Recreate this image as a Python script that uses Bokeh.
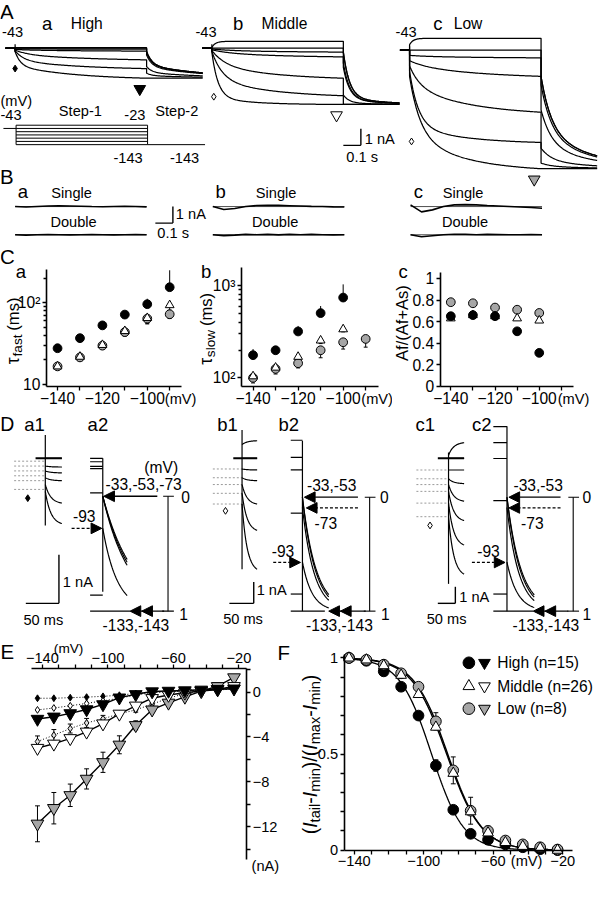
import numpy as np
from bokeh.plotting import figure
from bokeh.models import Range1d, FixedTicker, Arrow, NormalHead
from bokeh.layouts import column, row
from bokeh.embed import file_html
from bokeh.resources import INLINE
from bokeh.core.properties import value

S = 599.0 / 615.0
FONT = "Liberation Sans"
GRAY = "#a6a6a6"

# ============================== DATA ==============================
# ---- A: step-1 (0.75 s) from -43 mV holding, then step-2 to -143 mV
A_STEP1_MV = [-143, -123, -103, -83, -63, -43, -23]
A_HOLD_MV = -43
A_STEP2_MV = -143
A_EREV_MV = -30
A_STEP1_S = 0.75
A_STEP2_S = 0.32
A_END_HIGH = [-1.82, -1.24, -0.71, -0.18, -0.06, 0.0, 0.03]      # nA at end of step-1
A_END_MID = [-3.41, -2.88, -1.82, -0.53, -0.24, 0.0, 0.41]
A_END_LOW = [-7.18, -5.59, -3.76, -1.59, -0.47, 0.0, 0.71]
A_TF_HIGH = [0.03, 0.05, 0.08, 0.1, 0.1, 0.1, 0.02]              # fast tau (s)
A_TF_MID = [0.035, 0.06, 0.08, 0.1, 0.1, 0.1, 0.02]
A_TF_LOW = [0.06, 0.05, 0.06, 0.1, 0.1, 0.1, 0.02]
A_TS_HIGH = [0.35, 0.4, 0.5, 0.5, 0.5, 0.5, 0.1]                 # slow tau (s)
A_TS_MID = [0.2, 0.35, 0.4, 0.5, 0.5, 0.5, 0.1]
A_TS_LOW = [0.3, 0.3, 0.35, 0.5, 0.5, 0.5, 0.1]
A_AF_HIGH = [0.5, 0.5, 0.4, 0.3, 0.3, 0.5, 1.0]                  # fast fraction
A_AF_MID = [0.85, 0.6, 0.5, 0.4, 0.4, 0.5, 1.0]
A_AF_LOW = [0.6, 0.75, 0.4, 0.3, 0.3, 0.5, 1.0]
A_LEAK_NS = [2.0, 2.4, 16.0]                                     # High, Middle, Low

# ---- B: fit residuals (nA), 13 samples across step-1
B_SINGLE_HIGH = [0.0, -0.03, 0.0, 0.03, 0.04, 0.03, 0.02, 0.0, -0.01, 0.0, 0.01, 0.0, -0.02]
B_DOUBLE_HIGH = [0.0, -0.02, 0.0, 0.01, 0.0, -0.01, 0.0, 0.01, 0.0, -0.01, 0.0, 0.01, 0.0]
B_SINGLE_MID = [0.0, -0.18, -0.12, 0.0, 0.06, 0.08, 0.07, 0.05, 0.03, 0.01, 0.0, -0.02, -0.03]
B_DOUBLE_MID = [0.0, -0.05, -0.02, 0.02, 0.0, 0.02, -0.01, 0.02, 0.0, 0.02, 0.0, -0.01, 0.0]
B_SINGLE_LOW = [0.1, -0.32, -0.2, 0.0, 0.1, 0.12, 0.1, 0.06, 0.03, 0.0, -0.03, -0.06, -0.1]
B_DOUBLE_LOW = [0.0, -0.12, -0.06, 0.0, 0.03, 0.02, 0.0, 0.02, 0.01, 0.0, 0.0, 0.01, 0.0]

# ---- C: kinetics vs step-1 potential
C_MV = [-140, -130, -120, -110, -100, -90]
CA_HIGH = [27.7, 36.8, 52.8, 71.6, 96.0, 155.0]
CA_HIGH_UP = [31, 40, 57, 78, 112, 250]
CA_MID = [16.6, 21.8, 30.4, 45.0, 65.0, 93.5]
CA_MID_LO = [15.5, 20.0, 27.5, 41.0, 55.0, 81.0]
CA_LOW = [16.6, 21.4, 29.8, 43.7, 63.9, 72.3]
CA_LOW_LO = [15.5, 19.5, 27.0, 39.0, 56.0, 64.0]
CB_HIGH = [176, 199, 318, 503, 741]
CB_HIGH_UP = [205, 218, 365, 600, 1030]
CB_MID = [104, 129, 169, 254, 336]
CB_MID_LO = [95, 116, 150, 235, 315]
CB_LOW = [100, 125, 144, 199, 243, 264]
CB_LOW_LO = [88, 110, 128, 165, 205, 215]
CC_HIGH = [0.65, 0.66, 0.65, 0.51, 0.31]
CC_MID = [0.63, 0.66, 0.65, 0.63, 0.61]
CC_LOW = [0.78, 0.77, 0.73, 0.71, 0.68]

# ---- D: tail currents (normalised 0..1) after prepulses
D_PREPULSE_MV = [-33, -53, -73, -93, -133, -143]
D2_START_HIGH = [0.0, 0.0, 0.0, 0.28, 1.0, 1.0]
D2_START_MID = [0.0, 0.0, 0.09, 0.57, 1.0, 1.0]
D2_START_LOW = [0.0, 0.0, 0.09, 0.57, 1.0, 1.0]
D2_TAU_HIGH_MS = [43, 46, 40, 22, 1, 1]
D2_TAU_MID_MS = [26, 28, 24, 20, 1, 1]
D2_TAU_LOW_MS = [37, 40, 34, 30, 1, 1]
D2_PRE_HIGH = [-0.33, -0.30, -0.26, -0.24, -0.03, 0.86]
D2_PRE_MID = [-0.50, -0.35, -0.24, 0.14, 0.85]
D2_PRE_LOW = [-0.62, -0.48, -0.34, 0.03, 0.85]
D1_DOT_HIGH = [-0.06, -0.16, -0.26, -0.36, -0.46, -0.64]
D1_START_HIGH = [0.0, -0.16, -0.26, -0.40, -0.54, -0.68]
D1_END_HIGH = [0.0, -0.18, -0.30, -0.46, -0.92, -1.34]
D1_DOT_MID = [-0.55, -1.0, -1.35, -1.8, -2.35]
D1_START_MID = [0.7, 0.0, -0.55, -1.0, -1.35, -1.8, -2.35]
D1_END_MID = [0.9, 0.0, -0.6, -1.15, -2.35, -3.7, -5.7]
D1_DOT_LOW = [-0.71, -1.24, -1.59, -2.0, -2.71, -3.53]
D1_START_LOW = [0.18, 0.0, -0.71, -1.24, -1.59, -2.0, -2.71, -3.53]
D1_END_LOW = [0.94, 0.0, -0.71, -1.53, -2.59, -3.76, -5.24, -7.0]

# ---- E: current-voltage relations (nA)
E_MV = [-143, -133, -123, -113, -103, -93, -83, -73, -63, -53, -43, -33, -23]
E_SS_HIGH = [-0.55, -0.55, -0.5, -0.45, -0.38, -0.28, -0.12, 0.0, 0.05, 0.1, 0.15, 0.2, 0.25]
E_TAIL_HIGH = [-2.4, -2.2, -1.9, -1.55, -1.1, -0.5, -0.2, 0.05, 0.1, 0.14, 0.2, 0.25, 0.3]
E_SS_MID = [-1.59, -1.42, -1.22, -1.01, -0.78, -0.55, -0.26, -0.06, 0.03, 0.09, 0.14, 0.23, 0.29]
E_TAIL_MID = [-4.99, -4.61, -4.12, -3.54, -2.81, -1.94, -1.22, -0.55, -0.26, -0.06, 0.09, 0.23, 0.52]
E_SS_LOW = [-4.41, -3.84, -3.25, -2.75, -2.38, -1.94, -1.59, -1.07, -0.55, -0.14, 0.09, 0.23, 0.38]
E_SS_LOW_ERR = [0.5, 0.5, 0.4, 0.4, 0.3, 0.2, 0.2, 0.1, 0.1, 0.0, 0.0, 0.0, 0.0]
E_TAIL_LOW = [-11.74, -10.35, -9.2, -7.74, -6.26, -4.7, -2.96, -1.57, -0.96, -0.43, 0.09, 0.52, 1.3]
E_TAIL_LOW_ERR = [1.6, 1.4, 1.0, 0.9, 0.9, 0.8, 0.4, 0.2, 0.1, 0.1, 0.1, 0.1, 0.1]

# ---- F: normalised activation curves
F_MV = [-143, -133, -123, -113, -103, -93, -83, -73, -63, -53, -43, -33, -23]
F_HIGH = [1.0, 0.985, 0.93, 0.85, 0.70, 0.44, 0.21, 0.085, 0.054, 0.03, 0.015, 0.005, 0.0]
F_HIGH_ERR = [0, 0, 0, 0, 0, 0.03, 0, 0, 0, 0, 0, 0, 0]
F_MID = [1.0, 0.99, 0.96, 0.91, 0.81, 0.64, 0.40, 0.20, 0.09, 0.04, 0.02, 0.01, 0.0]
F_LOW = [1.0, 0.99, 0.965, 0.92, 0.85, 0.67, 0.415, 0.205, 0.10, 0.05, 0.03, 0.015, 0.003]
F_LOW_ERR = [0, 0, 0, 0, 0, 0.045, 0.07, 0.07, 0.025, 0, 0, 0, 0]
F_FIT_VHALF = [-95.5, -86.8, -86.2]      # High, Middle, Low Boltzmann fits
F_FIT_K = [9.2, 10.0, 9.8]
F_LEGEND = ["High (n=15)", "Middle (n=26)", "Low (n=8)"]

# ============================ HELPERS ============================
CW = {'τ': 0.44, 'f': 0.278, 'a': 0.556, 's': 0.5, 't': 0.278, ' ': 0.278, '(': 0.333,
      ')': 0.333, 'm': 0.833, 'l': 0.222, 'o': 0.556, 'w': 0.722, 'i': 0.222, 'n': 0.556,
      'x': 0.5, 'A': 0.667, '/': 0.278, '+': 0.584, 'I': 0.278, '-': 0.333}


def tw(s, size):
    return sum(CW.get(c, 0.556) for c in s) * size


def fs(px):
    return f"{px * S:.2f}px"


class Map:
    """page-pixel (reference layout) <-> data coordinates of one figure"""
    def __init__(self, rx0, x0, kx, ry0, y0, ky, ylog=False):
        self.rx0, self.x0, self.kx = rx0, x0, kx
        self.ry0, self.y0, self.ky = ry0, y0, ky
        self.ylog = ylog

    def X(self, rx):
        return self.x0 + (rx - self.rx0) / self.kx

    def Y(self, ry):
        v = self.y0 + (self.ry0 - ry) / self.ky
        return 10 ** v if self.ylog else v


PIX = Map(0, 0, 1, 0, 0, -1)


def make_fig(box, m):
    bx0, by0, bx1, by1 = box
    p = figure(width=round((bx1 - bx0) * S), height=round((by1 - by0) * S),
               x_range=Range1d(m.X(bx0), m.X(bx1)), y_range=Range1d(m.Y(by1), m.Y(by0)),
               y_axis_type="log" if m.ylog else "linear",
               x_axis_location=None, y_axis_location=None,
               output_backend="svg", toolbar_location=None,
               min_border=0, outline_line_color=None)
    p.grid.visible = False
    return p


def axis_fig(box, m, frame, x_side="below", y_side="left", lsize=16):
    bx0, by0, bx1, by1 = box
    L, T, R, B = frame
    p = figure(width=round((bx1 - bx0) * S), height=round((by1 - by0) * S),
               x_range=Range1d(m.X(bx0), m.X(bx1)), y_range=Range1d(m.Y(by1), m.Y(by0)),
               y_axis_type="log" if m.ylog else "linear",
               x_axis_location=x_side, y_axis_location=y_side,
               output_backend="svg", toolbar_location=None,
               min_border=0, outline_line_color=None)
    p.grid.visible = False
    p.xaxis.fixed_location = m.Y(B) if x_side == "below" else m.Y(T)
    p.xaxis.bounds = (m.X(L), m.X(R))
    p.yaxis.fixed_location = m.X(L) if y_side == "left" else m.X(R)
    p.yaxis.bounds = (m.Y(B), m.Y(T))
    for ax in p.axis:
        ax.axis_line_width = 1.6
        ax.axis_line_color = "black"
        ax.major_tick_line_width = 1.3
        ax.minor_tick_line_width = 1.3
        ax.major_tick_out = 4
        ax.major_tick_in = 0
        ax.minor_tick_out = 4
        ax.minor_tick_in = 0
        ax.major_label_text_font = FONT
        ax.major_label_text_font_size = fs(lsize)
        ax.major_label_text_color = "black"
        ax.major_label_standoff = 2
    return p


def txt(p, m, rx, ry, s, size=16, align="center", angle=0.0, style="normal"):
    p.text(x=[m.X(rx)], y=[m.Y(ry)], text=[s], text_font=value(FONT),
           text_font_size=value(fs(size)), text_align=align, text_baseline="middle",
           text_font_style=style, text_color="black", angle=angle)


def vcomp(p, m, rx, ryc, parts):
    total = sum(tw(t, sz) + gap for t, sz, dx, st, gap in parts)
    y = ryc + total / 2
    for t, sz, dx, st, gap in parts:
        y -= gap
        txt(p, m, rx + dx, y, t, size=sz, align="left", angle=np.pi / 2, style=st)
        y -= tw(t, sz)


def errbars(p, x, lo, hi, cap=5):
    p.segment(x0=x, y0=lo, x1=x, y1=hi, line_color="black", line_width=1)
    if cap > 0:
        p.scatter(x=list(x) + list(x), y=list(lo) + list(hi), marker="dash", size=cap * S,
                  line_color="black", line_width=1)


# ======================== ROW 1 : A and B ========================
PX_NA = 17.0
PX_S = 180.0
p1 = make_fig((0, 0, 615, 250), PIX)


def draw_A(p, x0, yh, end, tf, ts, af, gns, tri_fill):
    V = np.array(A_STEP1_MV, float)
    end = np.array(end, float)
    g = gns / 1000.0
    J = g * (V - A_HOLD_MV)
    act = end - J
    t1 = np.linspace(0, A_STEP1_S, 160)
    t2 = np.linspace(0, A_STEP2_S, 80)
    J2 = g * (A_STEP2_MV - A_HOLD_MV)
    act143 = end[0] - J2
    drive = (A_STEP2_MV - A_EREV_MV) / (V - A_EREV_MV)
    frac = np.where(act < 0, np.clip(act / act143 * drive, 0, 1), 0.0)
    frac[0] = 1.0
    shape2 = af[0] * np.exp(-t2 / tf[0]) + (1 - af[0]) * np.exp(-t2 / ts[0])
    xs, ys = [], []
    for i in range(len(V)):
        sh = 1 - af[i] * np.exp(-t1 / tf[i]) - (1 - af[i]) * np.exp(-t1 / ts[i])
        I1 = J[i] + act[i] * sh / sh[-1]
        I2 = J2 + act143 * (1 - (1 - frac[i]) * shape2)
        I = np.concatenate([[0.0, 0.0], I1, I2])
        t = np.concatenate([[-0.055, 0.0], t1, A_STEP1_S + t2])
        xs.append(list(x0 + t * PX_S))
        ys.append(list(yh - I * PX_NA))
    p.multi_line(xs, ys, line_color="black", line_width=1.25)
    p.segment(x0=[x0], y0=[yh - 4], x1=[x0], y1=[yh + 4], line_color="black", line_width=1.2)
    xe = x0 + A_STEP1_S * PX_S
    ye = yh - end[0] * PX_NA
    p.scatter(x=[xe - 7], y=[ye + 11], marker="inverted_triangle", size=12 * S,
              fill_color=tri_fill, line_color="black", line_width=1)


draw_A(p1, 15, 49, A_END_HIGH, A_TF_HIGH, A_TS_HIGH, A_AF_HIGH, A_LEAK_NS[0], "black")
draw_A(p1, 217, 49, A_END_MID, A_TF_MID, A_TS_MID, A_AF_MID, A_LEAK_NS[1], "white")
draw_A(p1, 420, 51, A_END_LOW, A_TF_LOW, A_TS_LOW, A_AF_LOW, A_LEAK_NS[2], GRAY)
p1.scatter(x=[15], y=[70], marker="diamond", size=7 * S, fill_color="black", line_color="black")
p1.scatter(x=[219], y=[99], marker="diamond", size=7 * S, fill_color="white", line_color="black")
p1.scatter(x=[422], y=[145], marker="diamond", size=7 * S, fill_color="white", line_color="black")

txt(p1, PIX, 6.5, 11, "A", size=21)
for xm, xl, xn, letter, name in [(12.5, 48, 88.5, "a", "High"), (211, 244, 291.5, "b", "Middle"),
                                 (416.5, 449, 480, "c", "Low")]:
    txt(p1, PIX, xm, 32, "-43", size=15)
    txt(p1, PIX, xl, 24, letter, size=19)
    txt(p1, PIX, xn, 24, name, size=16)


def vy(v):
    return 128.3 + (-23 - v) / 6.0


p1.multi_line([[16, 151]] * len(A_STEP1_MV), [[vy(v), vy(v)] for v in A_STEP1_MV],
              line_color="black", line_width=1)
p1.segment(x0=[3, 16, 151, 151], y0=[vy(A_HOLD_MV), vy(-23), vy(-23), vy(A_STEP2_MV)],
           x1=[16, 16, 151, 210], y1=[vy(A_HOLD_MV), vy(-143), vy(-143), vy(A_STEP2_MV)],
           line_color="black", line_width=1)
txt(p1, PIX, 0, 103, "(mV)", size=15, align="left")
txt(p1, PIX, 0, 118, "-43", size=15, align="left")
txt(p1, PIX, 82, 114, "Step-1", size=15)
txt(p1, PIX, 138, 118, "-23", size=15)
txt(p1, PIX, 181, 114, "Step-2", size=15)
txt(p1, PIX, 131, 162, "-143", size=15)
txt(p1, PIX, 189, 162, "-143", size=15)

p1.segment(x0=[370, 352], y0=[132, 149], x1=[370, 370], y1=[149, 149], line_color="black", line_width=1.4)
txt(p1, PIX, 374, 142, "1 nA", size=15, align="left")
txt(p1, PIX, 355, 161, "0.1 s", size=15, align="left")

txt(p1, PIX, 6.5, 181, "B", size=21)
tB = np.linspace(0, A_STEP1_S, 13)
for x0, lab, xs_, xd, single, double in [
        (15, "a", 73, 75, B_SINGLE_HIGH, B_DOUBLE_HIGH),
        (218, "b", 283, 282, B_SINGLE_MID, B_DOUBLE_MID),
        (421, "c", 475, 477, B_SINGLE_LOW, B_DOUBLE_LOW)]:
    txt(p1, PIX, x0 + 8, 197, lab, size=19)
    txt(p1, PIX, xs_, 198, "Single", size=15)
    txt(p1, PIX, xd, 228, "Double", size=15)
    xx = list(x0 + tB * PX_S)
    p1.multi_line([[x0, x0 + A_STEP1_S * PX_S]] * 2, [[212, 212], [241, 241]],
                  line_color="black", line_width=0.7)
    p1.line(xx, list(212 - np.array(single) * PX_NA), line_color="black", line_width=1.6)
    p1.line(xx, list(241 - np.array(double) * PX_NA), line_color="black", line_width=1.6)
p1.segment(x0=[177, 159], y0=[212, 229], x1=[177, 177], y1=[229, 229], line_color="black", line_width=1.4)
txt(p1, PIX, 180, 220, "1 nA", size=15, align="left")
txt(p1, PIX, 161, 239.5, "0.1 s", size=15, align="left")

# ========================== ROW 2 : C ==========================
MA = Map(58.5, -140, 2.3, 395, 1.0, 84, ylog=True)
MB = Map(259, -140, 2.31, 388.3, 2.0, 95, ylog=True)
MC = Map(462, -140, 2.275, 397, 0.0, 111)
FA = (47, 277, 186, 397)
FB = (247, 275, 388, 397)
FC = (451, 280, 588, 397)
pCa = axis_fig((0, 250, 201, 424), MA, FA)
pCb = axis_fig((201, 250, 402, 424), MB, FB)
pCc = axis_fig((402, 250, 615, 424), MC, FC)

for p in (pCa, pCb, pCc):
    p.xaxis.ticker = FixedTicker(ticks=[-140, -120, -100], minor_ticks=[-130, -110, -90])
pCa.yaxis.ticker = FixedTicker(ticks=[10, 100], minor_ticks=[20, 30, 40, 50, 60, 70, 80, 90, 200])
pCa.yaxis.major_label_overrides = {10: "10", 100: "10²"}
pCb.yaxis.ticker = FixedTicker(ticks=[100, 1000], minor_ticks=[200, 300, 400, 500, 600, 700, 800, 900])
pCb.yaxis.major_label_overrides = {100: "10²", 1000: "10³"}
pCa.yaxis.minor_tick_out = 3
pCb.yaxis.minor_tick_out = 3
pCc.yaxis.ticker = FixedTicker(ticks=[0, 0.2, 0.4, 0.6, 0.8, 1.0])
pCc.yaxis.major_label_overrides = {0: "0", 1: "1"}

MS = 9 * S


def c_points(p, xv_mid, mid, xv_low, low, xv_high, high):
    p.scatter(x=xv_low, y=low, marker="circle", size=MS, fill_color=GRAY, line_color="black", line_width=1)
    p.scatter(x=xv_mid, y=mid, marker="triangle", size=MS, fill_color="white", line_color="black", line_width=1)
    p.scatter(x=xv_high, y=high, marker="circle", size=MS, fill_color="black", line_color="black")


errbars(pCa, C_MV, CA_HIGH, CA_HIGH_UP, cap=0)
errbars(pCa, C_MV, CA_MID_LO, CA_MID, cap=4)
errbars(pCa, C_MV, CA_LOW_LO, CA_LOW, cap=4)
c_points(pCa, C_MV, CA_MID, C_MV, CA_LOW, C_MV, CA_HIGH)
errbars(pCb, C_MV[:5], CB_HIGH, CB_HIGH_UP, cap=0)
errbars(pCb, C_MV[:5], CB_MID_LO, CB_MID, cap=4)
errbars(pCb, C_MV, CB_LOW_LO, CB_LOW, cap=4)
c_points(pCb, C_MV[:5], CB_MID, C_MV, CB_LOW, C_MV[:5], CB_HIGH)
c_points(pCc, C_MV[:5], CC_MID, C_MV[:5], CC_LOW, C_MV[:5], CC_HIGH)

txt(pCa, MA, 7, 263, "C", size=21)
txt(pCa, MA, 21, 279, "a", size=19)
txt(pCb, MB, 211, 279, "b", size=19)
txt(pCc, MC, 413, 279, "c", size=19)
txt(pCa, MA, 168.5, 410, "(mV)", size=15, align="left")
txt(pCb, MB, 370, 410, "(mV)", size=15, align="left")
txt(pCc, MC, 572, 410, "(mV)", size=15, align="left")
vcomp(pCa, MA, 13, 340, [("τ", 18, 0, "normal", 0), ("fast", 14, 4, "normal", 0), ("(ms)", 17, 0, "normal", 4)])
vcomp(pCb, MB, 211, 338, [("τ", 18, 0, "normal", 0), ("slow", 14, 4, "normal", 0), ("(ms)", 17, 0, "normal", 4)])
vcomp(pCc, MC, 412, 332, [("Af/(Af+As)", 17, 0, "normal", 0)])

# ========================== ROW 3 : D ==========================
pD = make_fig((0, 424, 615, 652), PIX)
txt(pD, PIX, 7, 436, "D", size=20)
U = np.linspace(0, 1, 30)
SH = (1 - np.exp(-3 * U)) / (1 - np.exp(-3))


def head():
    return NormalHead(size=11 * S, fill_color="black", line_color="black", line_width=1)


def draw_D(p, L, dots, starts, ends, pre, st2, taus, mk_fill):
    yz = 471
    x1, w1 = L["x1"], L["w1"]
    p.multi_line([[L["dotL"], x1]] * len(dots), [[yz - d * L["pxna"]] * 2 for d in dots],
                 line_color="#9a9a9a", line_dash="2 2", line_width=1)
    p.segment(x0=[x1], y0=[L["v1"][0]], x1=[x1], y1=[L["v1"][1]], line_color="black", line_width=1.2)
    p.line([L["flatL"], x1 + w1], [yz, yz], line_color="black", line_width=2.2)
    xs = [list(x1 + U * w1) for _ in starts]
    ys = [list(yz - (s + (e - s) * SH) * L["pxna"]) for s, e in zip(starts, ends)]
    p.multi_line(xs, ys, line_color="black", line_width=1.2)
    p.scatter(x=[L["mark"][0]], y=[L["mark"][1]], marker="diamond", size=7 * S,
              fill_color=mk_fill, line_color="black")
    x2, y0, y1 = L["x2"], L["y0"], L["y1"]
    p.segment(x0=[x2], y0=[L["v2"][0]], x1=[x2], y1=[L["v2"][1]], line_color="black", line_width=1.2)
    p.multi_line([[L["preL"], x2]] * len(pre), [[y0 + v * (y1 - y0)] * 2 for v in pre],
                 line_color="black", line_width=1.2)
    pxms = L["px50"] / 50.0
    t = np.linspace(0, L["w2"] / pxms, 40)
    xs, ys = [], []
    for n0, tau in zip(st2, taus):
        if n0 >= 1:
            continue
        n = 1 - (1 - n0) * np.exp(-t / tau)
        xs.append(list(x2 + t * pxms))
        ys.append(list(y0 + n * (y1 - y0)))
    p.multi_line(xs, ys, line_color="black", line_width=1.2)
    p.line([L["preL"], L["flatR"]], [y1, y1], line_color="black", line_width=1.4)
    b = L["bar"]
    p.segment(x0=[b, b - 5, b - 6], y0=[y0, y0, y1], x1=[b, b + 6, b + 6], y1=[y1, y0, y1],
              line_color="black", line_width=1.1)
    txt(p, PIX, L["zero"][0], L["zero"][1], "0", size=16)
    txt(p, PIX, L["one"][0], L["one"][1], "1", size=16)
    sx0, sx1, sy = L["solid"]
    p.add_layout(Arrow(end=head(), x_start=sx0, y_start=sy, x_end=sx1, y_end=sy,
                       line_color="black", line_width=1.3))
    txt(p, PIX, L["main"][1], L["main"][2], L["main"][0], size=16)
    if L.get("dash73"):
        dx0, dx1, dy = L["dash73"]
        p.add_layout(Arrow(end=head(), x_start=dx0, y_start=dy, x_end=dx1, y_end=dy,
                           line_color="black", line_width=1.2, line_dash="3 2"))
        txt(p, PIX, L["lbl73"][0], L["lbl73"][1], "-73", size=16)
    dx0, dx1, dy = L["dash93"]
    p.add_layout(Arrow(end=head(), x_start=dx0, y_start=dy, x_end=dx1, y_end=dy,
                       line_color="black", line_width=1.2, line_dash="3 2"))
    txt(p, PIX, L["lbl93"][0], L["lbl93"][1], "-93", size=16)
    hx0, hx1 = L["heads"]
    p.add_layout(Arrow(end=head(), x_start=hx0, y_start=y1, x_end=hx1, y_end=y1,
                       line_color="black", line_width=1.3))
    p.add_layout(Arrow(end=head(), x_start=hx1 + 13, y_start=y1, x_end=hx1 + 12, y_end=y1,
                       line_color="black", line_width=1.3))
    txt(p, PIX, L["lbl133"][0], L["lbl133"][1], "-133,-143", size=16)
    txt(p, PIX, L["l1"][1], 436, L["l1"][0], size=19)
    txt(p, PIX, L["l2"][1], 436, L["l2"][0], size=19)
    vx, vt, vb, hx = L["sb"]
    p.segment(x0=[vx, hx], y0=[vt, vb], x1=[vx, vx], y1=[vb, vb], line_color="black", line_width=1.4)
    txt(p, PIX, L["sbna"][0], L["sbna"][1], "1 nA", size=15, align="left")
    txt(p, PIX, L["sbms"][0], L["sbms"][1], "50 ms", size=15)


LAY_A = dict(x1=46, w1=17, flatL=36, v1=(447, 540), dotL=14, pxna=50, mark=(28, 512),
             x2=105, v2=(471, 608), preL=92, y0=510, y1=628, w2=25, flatR=133, px50=34, bar=172,
             zero=(190, 511), one=(188, 631), solid=(161, 106, 510), main=("-33,-53,-73", 147, 497),
             dash93=(73, 104, 543), lbl93=(86, 530), heads=(168, 133), lbl133=(139, 642),
             l1=("a1", 35), l2=("a2", 100), sb=(60, 570, 620, 26), sbna=(64, 598), sbms=(44, 637))
LAY_B = dict(x1=248, w1=15.5, flatL=239, v1=(442, 585), dotL=218, pxna=20, mark=(231, 525),
             x2=310, v2=(453, 628), preL=298, y0=511, y1=628, w2=27, flatR=333, px50=25, bar=379,
             zero=(394, 511), one=(395, 631), solid=(367, 312, 511), main=("-33,-53", 340, 498),
             dash73=(367, 314, 522), lbl73=(334, 537),
             dash93=(280, 308, 578), lbl93=(290, 566), heads=(375, 337), lbl133=(348, 642),
             l1=("b1", 233), l2=("b2", 296), sb=(260, 598, 620, 235), sbna=(263, 606), sbms=(249, 636))
LAY_C = dict(x1=460, w1=16, flatL=449, v1=(465, 600), dotL=427, pxna=17, mark=(441, 540),
             x2=520, v2=(438, 628), preL=506, y0=511, y1=628, w2=28, flatR=547, px50=18, bar=588,
             zero=(602, 511), one=(602, 631), solid=(575, 522, 511), main=("-33,-53", 552, 498),
             dash73=(575, 522, 522), lbl73=(546, 537),
             dash93=(484, 518, 578), lbl93=(501, 566), heads=(583, 547), lbl133=(560, 642),
             l1=("c1", 436), l2=("c2", 494), sb=(467, 603, 620, 449), sbna=(471, 613), sbms=(458, 636))

draw_D(pD, LAY_A, D1_DOT_HIGH, D1_START_HIGH, D1_END_HIGH, D2_PRE_HIGH, D2_START_HIGH, D2_TAU_HIGH_MS, "black")
draw_D(pD, LAY_B, D1_DOT_MID, D1_START_MID, D1_END_MID, D2_PRE_MID, D2_START_MID, D2_TAU_MID_MS, "white")
draw_D(pD, LAY_C, D1_DOT_LOW, D1_START_LOW, D1_END_LOW, D2_PRE_LOW, D2_START_LOW, D2_TAU_LOW_MS, "white")
txt(pD, PIX, 165, 480, "(mV)", size=16)

# ========================== ROW 4 : E, F ==========================
ME = Map(38, -143, 1.683, 711, 0.0, 11.5)
FE = (32, 687, 253, 883)
pE = axis_fig((0, 652, 298, 899), ME, FE, x_side="above", y_side="right", lsize=15)
pE.xaxis.ticker = FixedTicker(ticks=[-140, -100, -60, -20],
                              minor_ticks=[-130, -120, -110, -90, -80, -70, -50, -40, -30])
pE.yaxis.ticker = FixedTicker(ticks=[0, -4, -8, -12], minor_ticks=[2, -2, -6, -10, -14])

pE.line(E_MV, E_SS_HIGH, line_color="black", line_width=1, line_dash="1 2")
pE.line(E_MV, E_SS_MID, line_color="black", line_width=1, line_dash="1 2")
pE.line(E_MV, E_SS_LOW, line_color="black", line_width=1, line_dash="1 2")
pE.line(E_MV, E_TAIL_HIGH, line_color="black", line_width=1.4)
pE.line(E_MV, E_TAIL_MID, line_color="black", line_width=1.4)
pE.line(E_MV, E_TAIL_LOW, line_color="black", line_width=1.4)
errbars(pE, E_MV, [a - b for a, b in zip(E_SS_LOW, E_SS_LOW_ERR)],
        [a + b for a, b in zip(E_SS_LOW, E_SS_LOW_ERR)], cap=5)
errbars(pE, E_MV, [a - b for a, b in zip(E_TAIL_LOW, E_TAIL_LOW_ERR)],
        [a + b for a, b in zip(E_TAIL_LOW, E_TAIL_LOW_ERR)], cap=5)
pE.scatter(E_MV, E_SS_HIGH, marker="diamond", size=7 * S, fill_color="black", line_color="black")
pE.scatter(E_MV, E_SS_MID, marker="diamond", size=7 * S, fill_color="white", line_color="black")
pE.scatter(E_MV, E_SS_LOW, marker="diamond", size=7 * S, fill_color="#e0e0e0", line_color="black")
pE.scatter(E_MV, E_TAIL_LOW, marker="inverted_triangle", size=13 * S, fill_color=GRAY, line_color="black")
pE.scatter(E_MV, E_TAIL_MID, marker="inverted_triangle", size=13 * S, fill_color="white", line_color="black")
pE.scatter(E_MV, E_TAIL_HIGH, marker="inverted_triangle", size=13 * S, fill_color="black", line_color="black")
txt(pE, ME, 7, 669, "E", size=21)
txt(pE, ME, 291, 670, "F", size=21)
txt(pE, ME, 70, 666, "(mV)", size=14)
txt(pE, ME, 258, 889, "(nA)", size=15, align="left")

MF = Map(358, -143, 1.783, 873, 0.0, 197)
FF = (353, 673, 587, 873)
pF = axis_fig((298, 652, 615, 899), MF, FF, lsize=15)
pF.xaxis.ticker = FixedTicker(ticks=[-140, -100, -60, -20],
                              minor_ticks=[-130, -120, -110, -90, -80, -70, -50, -40, -30])
pF.yaxis.ticker = FixedTicker(ticks=[0, 0.5, 1.0], minor_ticks=[0.1, 0.2, 0.3, 0.4, 0.6, 0.7, 0.8, 0.9])
pF.yaxis.major_label_overrides = {0: "0", 0.5: "0.5", 1: "1"}

vfit = np.linspace(-143, -23, 200)
for vh, k, lw in zip(F_FIT_VHALF, F_FIT_K, [1.3, 1.4, 1.4]):
    pF.line(vfit, 1.0 / (1.0 + np.exp((vfit - vh) / k)), line_color="black", line_width=lw)
errbars(pF, F_MV, [a - b for a, b in zip(F_LOW, F_LOW_ERR)],
        [a + b for a, b in zip(F_LOW, F_LOW_ERR)], cap=5)
errbars(pF, F_MV, [a - b for a, b in zip(F_HIGH, F_HIGH_ERR)],
        [a + b for a, b in zip(F_HIGH, F_HIGH_ERR)], cap=5)
pF.scatter(F_MV, F_HIGH, marker="circle", size=11 * S, fill_color="black", line_color="black")
pF.scatter(F_MV, F_LOW, marker="circle", size=11 * S, fill_color=GRAY, line_color="black", line_width=1)
pF.scatter(F_MV, F_MID, marker="triangle", size=11 * S, fill_color="white", line_color="black", line_width=1)

leg_y = [681, 705, 728]
leg_m1 = [("circle", "black"), ("triangle", "white"), ("circle", GRAY)]
leg_m2 = ["black", "white", GRAY]
for yy, (m1, c1), c2, name in zip(leg_y, leg_m1, leg_m2, F_LEGEND):
    pF.scatter([MF.X(481)], [MF.Y(yy)], marker=m1, size=12 * S, fill_color=c1,
               line_color="black", line_width=1)
    pF.scatter([MF.X(497)], [MF.Y(yy)], marker="inverted_triangle", size=12 * S, fill_color=c2,
               line_color="black", line_width=1)
    txt(pF, MF, 510, yy, name, size=16, align="left")
txt(pF, MF, 524, 884, "(mV)", size=15, align="left")
vcomp(pF, MF, 318, 775, [("(", 20, 0, "normal", 0), ("I", 20, 0, "italic", 0), ("tail", 15, 5, "normal", 0),
                         ("-", 20, 0, "normal", 0), ("I", 20, 0, "italic", 0), ("min", 15, 5, "normal", 0),
                         (")/(", 20, 0, "normal", 0), ("I", 20, 0, "italic", 0), ("max", 15, 5, "normal", 0),
                         ("-", 20, 0, "normal", 0), ("I", 20, 0, "italic", 0), ("min", 15, 5, "normal", 0),
                         (")", 20, 0, "normal", 0)])

layout = column(p1, row(pCa, pCb, pCc), pD, row(pE, pF))
open("out.html", "w").write(file_html(layout, INLINE))
